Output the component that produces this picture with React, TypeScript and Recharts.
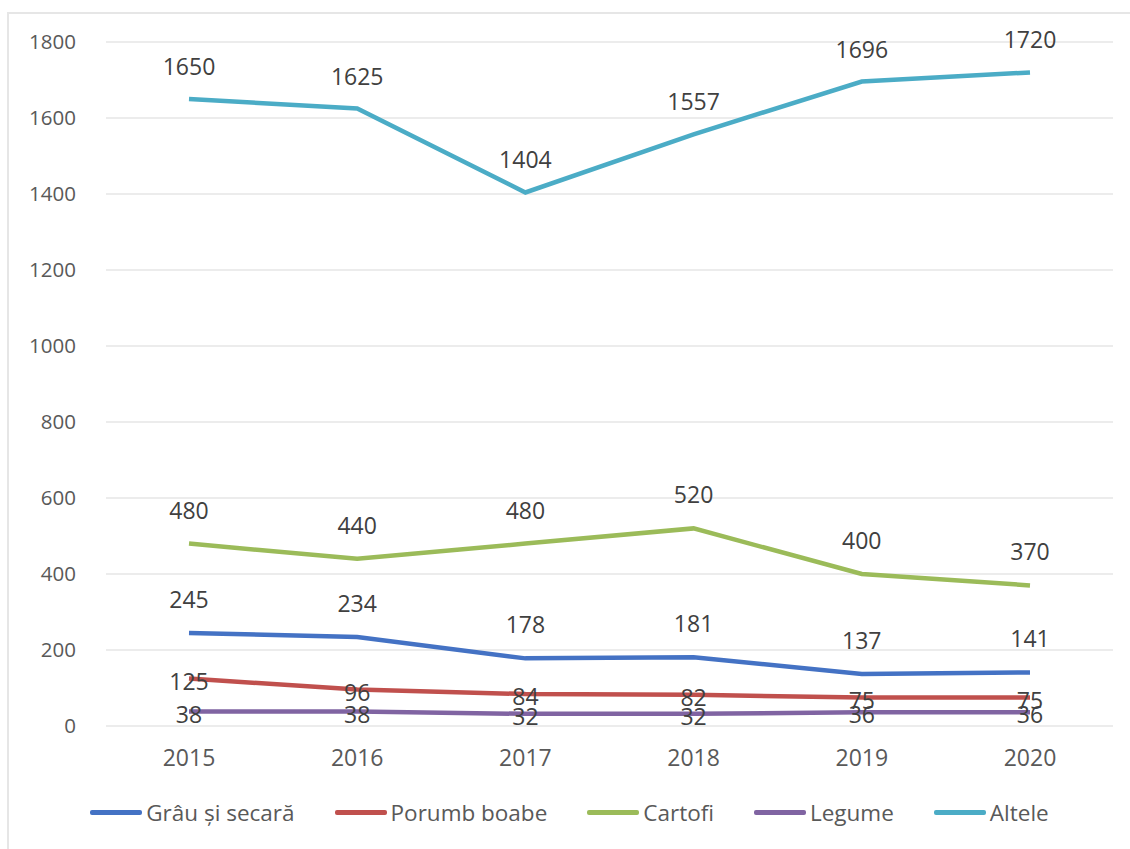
import React from 'react';
import { LineChart, Line, XAxis, YAxis, CartesianGrid, Legend } from 'recharts';

const years = ['2015', '2016', '2017', '2018', '2019', '2020'];
const grau = [245, 234, 178, 181, 137, 141];
const porumb = [125, 96, 84, 82, 75, 75];
const cartofi = [480, 440, 480, 520, 400, 370];
const legume = [38, 38, 32, 32, 36, 36];
const altele = [1650, 1625, 1404, 1557, 1696, 1720];
const yTicks = [0, 200, 400, 600, 800, 1000, 1200, 1400, 1600, 1800];

const series = [
  { key: 'grau', name: 'Grâu și secară', color: '#4472C4', values: grau, dy: -34 },
  { key: 'porumb', name: 'Porumb boabe', color: '#C0504D', values: porumb, dy: 2 },
  { key: 'cartofi', name: 'Cartofi', color: '#9BBB59', values: cartofi, dy: -34 },
  { key: 'legume', name: 'Legume', color: '#8064A2', values: legume, dy: 2 },
  { key: 'altele', name: 'Altele', color: '#4BACC6', values: altele, dy: -33 },
];

const data = years.map((year, i) => {
  const row: Record<string, string | number> = { year };
  series.forEach((s) => { row[s.key] = s.values[i]; });
  return row;
});

const FONT = '"Open Sans", sans-serif';

const makeLabel = (dy: number) => (props: any) => {
  const { x, y, value, index } = props;
  return (
    <text
      key={index}
      x={x}
      y={y + dy}
      textAnchor="middle"
      dominantBaseline="central"
      fill="#404040"
      fontSize={23}
      fontFamily={FONT}
    >
      {value}
    </text>
  );
};

const LegendContent = () => (
  <div style={{ display: 'flex', justifyContent: 'center', gap: 40, fontFamily: FONT, fontSize: 22.5, color: '#595959', marginLeft: 26 }}>
    {series.map((s) => (
      <div key={s.key} style={{ display: 'flex', alignItems: 'center' }}>
        <span style={{ display: 'inline-block', width: 52, height: 5, borderRadius: 2, background: s.color, marginRight: 4 }} />
        <span>{s.name}</span>
      </div>
    ))}
  </div>
);

export default function App() {
  return (
    <div style={{ position: 'absolute', left: 0, top: 0, width: 1130, height: 849, background: '#fff' }}>
      <div style={{ position: 'absolute', left: 7, top: 12, width: 1123, height: 837, borderLeft: '2px solid #e6e6e6', borderTop: '2px solid #e6e6e6', boxSizing: 'border-box' }} />
      <LineChart width={1130} height={849} data={data} margin={{ top: 42, right: 17, bottom: 12, left: 0 }}>
        <CartesianGrid vertical={false} stroke="#d9d9d9" strokeWidth={1.2} />
        <XAxis
          dataKey="year"
          axisLine={false}
          tickLine={false}
          tickSize={0}
          tickMargin={24}
          height={71}
          padding={{ left: 83, right: 83 }}
          tick={{ fill: '#595959', fontSize: 23, fontFamily: FONT }}
        />
        <YAxis
          domain={[0, 1800]}
          ticks={yTicks}
          axisLine={false}
          tickLine={false}
          tickSize={0}
          tickMargin={30}
          width={106}
          tick={{ fill: '#595959', fontSize: 20.5, fontFamily: FONT }}
        />
        <Legend verticalAlign="bottom" height={40} content={<LegendContent />} />
        {series.map((s) => (
          <Line
            key={s.key}
            type="linear"
            dataKey={s.key}
            name={s.name}
            stroke={s.color}
            strokeWidth={4.5}
            dot={false}
            isAnimationActive={false}
            label={makeLabel(s.dy)}
          />
        ))}
      </LineChart>
    </div>
  );
}
